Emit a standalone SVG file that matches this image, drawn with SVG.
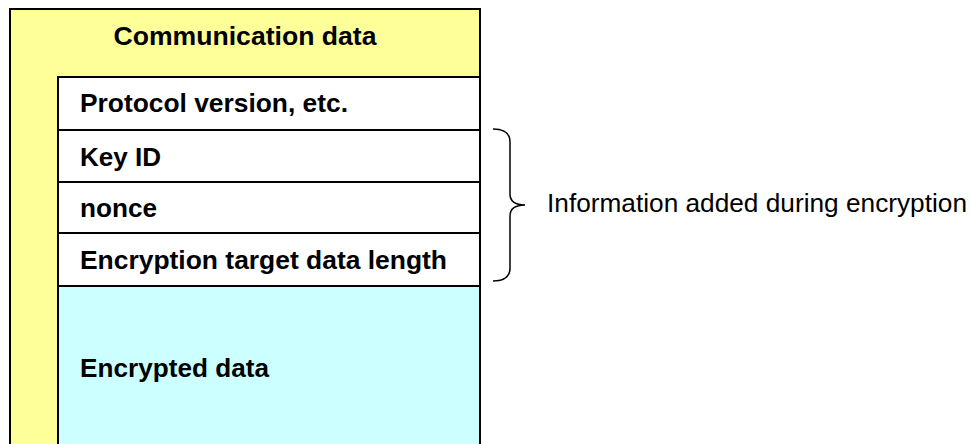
<svg xmlns="http://www.w3.org/2000/svg" width="971" height="444" viewBox="0 0 971 444">
  <style>
    .box { stroke: #000; stroke-width: 2; }
    .outer { fill: #FFFF99; }
    .field { fill: #FFFFFF; }
    .payload { fill: #CCFFFF; }
    .lbl { font-family: "Liberation Sans", Arial, sans-serif; font-size: 26px; font-weight: bold; fill: #000; }
    .note { font-family: "Liberation Sans", Arial, sans-serif; font-size: 25px; fill: #000; }
    .brace { fill: none; stroke: #000; stroke-width: 1.5; }
  </style>
  <rect width="971" height="444" fill="#FFFFFF"/>

  <g id="communication-data">
    <rect class="box outer" x="10" y="9" width="470" height="460"/>
    <text class="lbl" x="245" y="45" text-anchor="middle" textLength="263" lengthAdjust="spacingAndGlyphs">Communication data</text>
  </g>

  <g id="protocol-version">
    <rect class="box field" x="58" y="77" width="422" height="53"/>
    <text class="lbl" x="80" y="112" textLength="268" lengthAdjust="spacingAndGlyphs">Protocol version, etc.</text>
  </g>

  <g id="key-id">
    <rect class="box field" x="58" y="130" width="422" height="52"/>
    <text class="lbl" x="80" y="165.5" textLength="81" lengthAdjust="spacingAndGlyphs">Key ID</text>
  </g>

  <g id="nonce">
    <rect class="box field" x="58" y="182" width="422" height="51"/>
    <text class="lbl" x="80" y="217" textLength="77" lengthAdjust="spacingAndGlyphs">nonce</text>
  </g>

  <g id="target-length">
    <rect class="box field" x="58" y="233" width="422" height="53"/>
    <text class="lbl" x="80" y="269" textLength="367" lengthAdjust="spacingAndGlyphs">Encryption target data length</text>
  </g>

  <g id="encrypted-data">
    <rect class="box payload" x="58" y="286" width="422" height="183"/>
    <text class="lbl" x="80" y="377" textLength="189" lengthAdjust="spacingAndGlyphs">Encrypted data</text>
  </g>

  <g id="connectors">
    <path class="brace" d="M493,129 Q510,129 510,142 L510,194 Q510,205 525,205 Q510,205 510,216 L510,268 Q510,281 493,281"/>
  </g>

  <g id="encryption-info">
    <text class="note" x="547" y="212" textLength="420" lengthAdjust="spacingAndGlyphs">Information added during encryption</text>
  </g>
</svg>
